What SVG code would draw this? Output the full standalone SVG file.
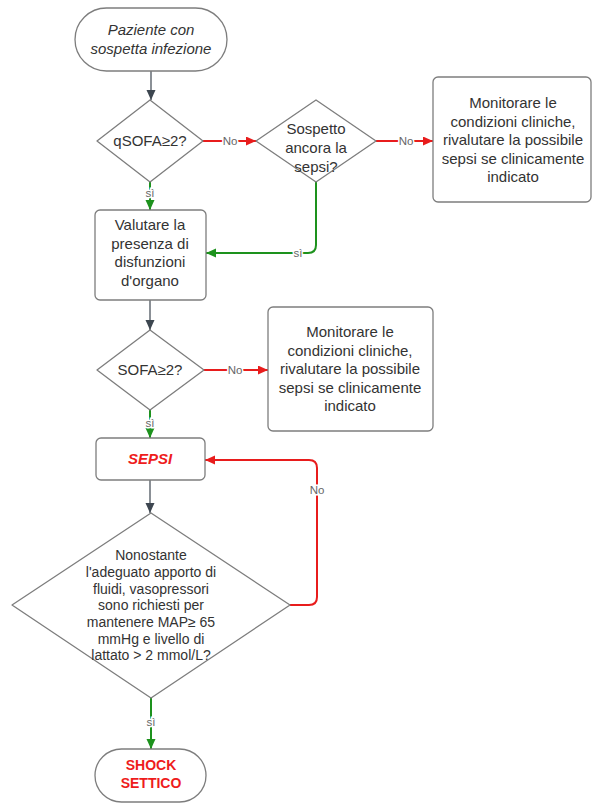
<svg xmlns="http://www.w3.org/2000/svg" width="592" height="803" viewBox="0 0 592 803">
<style>
.n{fill:#fff;stroke:#7d7d7d;stroke-width:1.3;stroke-linejoin:round}
.t{font-family:"Liberation Sans",Arial,sans-serif;font-size:15px;fill:#333;text-anchor:middle}
.s{font-size:14px}
.i{font-style:italic}
.r{fill:#ee1c1c;font-weight:bold}
.k{fill:none;stroke:#3d4650;stroke-width:1.2}
.red{fill:none;stroke:#e81c1c;stroke-width:2}
.grn{fill:none;stroke:#1d921d;stroke-width:2}
.lb{font-family:"Liberation Sans",Arial,sans-serif;font-size:11.5px;fill:#666;text-anchor:middle;stroke:#fff;stroke-width:3;paint-order:stroke}
</style>
<defs>
<marker id="ak" markerUnits="userSpaceOnUse" markerWidth="10" markerHeight="10" refX="10" refY="4.5" orient="auto"><path d="M0,0 L10,4.5 L0,9 z" fill="#3d4650"/></marker>
<marker id="ar" markerUnits="userSpaceOnUse" markerWidth="10" markerHeight="10" refX="10" refY="4.5" orient="auto"><path d="M0,0 L10,4.5 L0,9 z" fill="#e81c1c"/></marker>
<marker id="ag" markerUnits="userSpaceOnUse" markerWidth="10" markerHeight="10" refX="10" refY="4.5" orient="auto"><path d="M0,0 L10,4.5 L0,9 z" fill="#1d921d"/></marker>
</defs>
<rect width="592" height="803" fill="#fff"/>
<g id="connectors">
<path class="k" d="M151,71 V100" marker-end="url(#ak)"/>
<path class="red" d="M203,141 H256" marker-end="url(#ar)"/>
<text class="lb" x="230" y="145">No</text>
<path class="red" d="M376,141 H433" marker-end="url(#ar)"/>
<text class="lb" x="406" y="145">No</text>
<path class="grn" d="M150,182 V210" marker-end="url(#ag)"/>
<text class="lb" x="150" y="197">sì</text>
<path class="grn" d="M316,182 V245 Q316,253 308,253 H206" marker-end="url(#ag)"/>
<text class="lb" x="298" y="257">sì</text>
<path class="k" d="M150,300 V330" marker-end="url(#ak)"/>
<path class="red" d="M204,370 H268" marker-end="url(#ar)"/>
<text class="lb" x="235" y="374">No</text>
<path class="grn" d="M150,410 V438" marker-end="url(#ag)"/>
<text class="lb" x="150" y="427">sì</text>
<path class="k" d="M150,480 V513" marker-end="url(#ak)"/>
<path class="red" d="M290,605 H309 Q317,605 317,597 V468 Q317,460 309,460 H205" marker-end="url(#ar)"/>
<text class="lb" x="317" y="494">No</text>
<path class="grn" d="M151,698 V749" marker-end="url(#ag)"/>
<text class="lb" x="151" y="726">sì</text>
</g>
<g id="start">
<rect class="n" x="75" y="8" width="152" height="63" rx="31.5"/>
<text class="t i" x="151" y="35">Paziente con</text>
<text class="t i" x="151" y="54">sospetta infezione</text>
</g>
<g id="qsofa">
<polygon class="n" points="150,100 203,141 150,182 97,141"/>
<text class="t" x="150" y="146">qSOFA≥2?</text>
</g>
<g id="sospetto">
<polygon class="n" points="316,100 376,141 316,182 256,141"/>
<text class="t" x="316" y="134">Sospetto</text>
<text class="t" x="316" y="153">ancora la</text>
<text class="t" x="316" y="172">sepsi?</text>
</g>
<g id="monitor1">
<rect class="n" x="433" y="77" width="158" height="125" rx="5"/>
<text class="t" x="513" y="108">Monitorare le</text>
<text class="t" x="513" y="126.5">condizioni cliniche,</text>
<text class="t" x="513" y="145">rivalutare la possibile</text>
<text class="t" x="513" y="163.5">sepsi se clinicamente</text>
<text class="t" x="513" y="182">indicato</text>
</g>
<g id="valutare">
<rect class="n" x="95" y="210" width="111" height="90" rx="5"/>
<text class="t" x="150" y="230">Valutare la</text>
<text class="t" x="150" y="249">presenza di</text>
<text class="t" x="150" y="267">disfunzioni</text>
<text class="t" x="150" y="286">d'organo</text>
</g>
<g id="sofa">
<polygon class="n" points="150,330 204,370 150,410 97,370"/>
<text class="t" x="150" y="375">SOFA≥2?</text>
</g>
<g id="monitor2">
<rect class="n" x="268" y="307" width="165" height="124" rx="5"/>
<text class="t" x="350" y="337">Monitorare le</text>
<text class="t" x="350" y="355.5">condizioni cliniche,</text>
<text class="t" x="350" y="374">rivalutare la possibile</text>
<text class="t" x="350" y="392.5">sepsi se clinicamente</text>
<text class="t" x="350" y="411">indicato</text>
</g>
<g id="sepsi">
<rect class="n" x="96" y="438" width="109" height="42" rx="5"/>
<text class="t r i" x="150" y="464">SEPSI</text>
</g>
<g id="shockcheck">
<polygon class="n" points="151,513 290,605 151,698 12,605"/>
<text class="t s" x="151" y="560">Nonostante</text>
<text class="t s" x="151" y="577">l'adeguato apporto di</text>
<text class="t s" x="151" y="593.5">fluidi, vasopressori</text>
<text class="t s" x="151" y="610">sono richiesti per</text>
<text class="t s" x="151" y="627">mantenere MAP≥ 65</text>
<text class="t s" x="151" y="643.5">mmHg e livello di</text>
<text class="t s" x="151" y="660">lattato &gt; 2 mmol/L?</text>
</g>
<g id="shock">
<rect class="n" x="95" y="749" width="111" height="53" rx="26.5"/>
<text class="t s r" x="151" y="770">SHOCK</text>
<text class="t s r" x="151" y="788">SETTICO</text>
</g>
</svg>
